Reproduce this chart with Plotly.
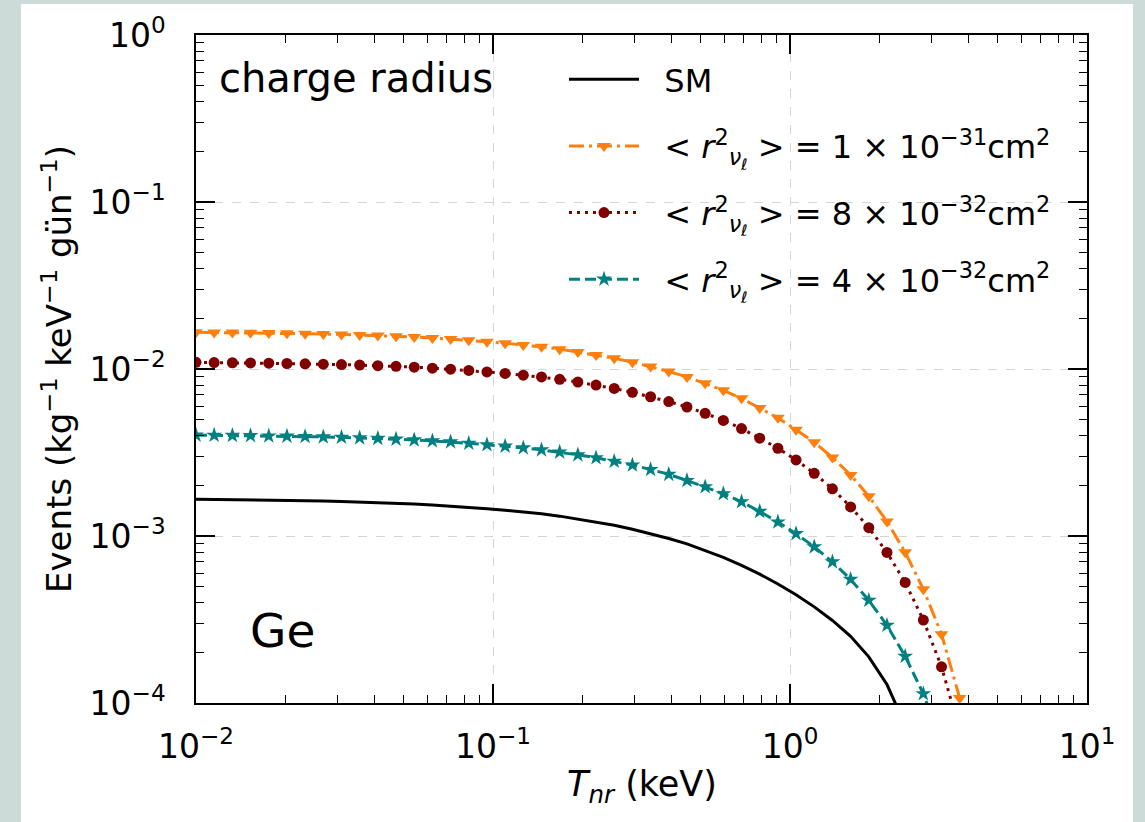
import plotly.graph_objects as go

# Recoil energy T_nr (keV)
T_keV = [0.01, 0.01151, 0.01326, 0.01526, 0.01758, 0.02024, 0.02330, 0.02683, 0.03089, 0.03556,
         0.04095, 0.04715, 0.05429, 0.06251, 0.07197, 0.08287, 0.09541, 0.10985, 0.12649, 0.14563,
         0.16768, 0.19307, 0.22230, 0.25595, 0.29471, 0.33932, 0.39069, 0.44984, 0.51795, 0.59636,
         0.68665, 0.79060, 0.91029, 1.04811, 1.20679, 1.38950, 1.59986, 1.84207, 2.12095, 2.44205,
         2.81177, 3.23746, 3.72759, 4.29193]

# Events (kg^-1 keV^-1 day^-1)
events_sm = [1.660e-3, 1.656e-3, 1.652e-3, 1.647e-3, 1.642e-3, 1.635e-3, 1.628e-3, 1.620e-3, 1.610e-3, 1.599e-3,
             1.586e-3, 1.571e-3, 1.554e-3, 1.534e-3, 1.511e-3, 1.485e-3, 1.455e-3, 1.425e-3, 1.393e-3, 1.357e-3,
             1.315e-3, 1.265e-3, 1.214e-3, 1.159e-3, 1.098e-3, 1.034e-3, 0.966e-3, 0.897e-3, 0.822e-3, 0.745e-3,
             0.667e-3, 0.591e-3, 0.516e-3, 0.445e-3, 0.3765e-3, 0.312e-3, 0.251e-3, 0.189e-3, 0.129e-3, 0.0736e-3]

events_r1e31 = [16.60e-3, 16.56e-3, 16.52e-3, 16.47e-3, 16.42e-3, 16.35e-3, 16.28e-3, 16.20e-3, 16.10e-3, 15.99e-3,
                15.86e-3, 15.71e-3, 15.54e-3, 15.34e-3, 15.11e-3, 14.85e-3, 14.55e-3, 14.25e-3, 13.93e-3, 13.57e-3,
                13.15e-3, 12.65e-3, 12.14e-3, 11.59e-3, 10.98e-3, 10.34e-3, 9.66e-3, 8.97e-3, 8.22e-3, 7.45e-3,
                6.67e-3, 5.85e-3, 5.10e-3, 4.33e-3, 3.64e-3, 2.95e-3, 2.32e-3, 1.73e-3, 1.22e-3, 0.80e-3,
                0.48e-3, 0.258e-3, 0.107e-3, 0.032e-3]

events_r8e32 = [10.96e-3, 10.93e-3, 10.90e-3, 10.87e-3, 10.84e-3, 10.79e-3, 10.74e-3, 10.69e-3, 10.63e-3, 10.55e-3,
                10.47e-3, 10.37e-3, 10.26e-3, 10.12e-3, 9.97e-3, 9.80e-3, 9.60e-3, 9.41e-3, 9.19e-3, 8.96e-3,
                8.68e-3, 8.35e-3, 8.01e-3, 7.65e-3, 7.25e-3, 6.82e-3, 6.38e-3, 5.92e-3, 5.43e-3, 4.92e-3,
                4.40e-3, 3.85e-3, 3.353e-3, 2.853e-3, 2.374e-3, 1.916e-3, 1.494e-3, 1.121e-3, 0.797e-3, 0.527e-3,
                0.3137e-3, 0.1646e-3, 0.0686e-3]

events_r4e32 = [4.02e-3, 4.01e-3, 4.00e-3, 3.99e-3, 3.97e-3, 3.96e-3, 3.94e-3, 3.92e-3, 3.90e-3, 3.87e-3,
                3.84e-3, 3.80e-3, 3.76e-3, 3.71e-3, 3.66e-3, 3.59e-3, 3.52e-3, 3.45e-3, 3.37e-3, 3.28e-3,
                3.18e-3, 3.06e-3, 2.94e-3, 2.80e-3, 2.66e-3, 2.50e-3, 2.34e-3, 2.15e-3, 1.97e-3, 1.79e-3,
                1.603e-3, 1.403e-3, 1.213e-3, 1.033e-3, 0.861e-3, 0.700e-3, 0.550e-3, 0.412e-3, 0.292e-3, 0.1905e-3,
                0.1135e-3, 0.0569e-3]

series_names = [
    "&nbsp;&nbsp;SM",
    "&nbsp;&nbsp;&lt; <i>r</i><sup>2</sup><sub><i>ν</i><sub>ℓ</sub></sub> &gt; = 1 × 10<sup>−31</sup>cm<sup>2</sup>",
    "&nbsp;&nbsp;&lt; <i>r</i><sup>2</sup><sub><i>ν</i><sub>ℓ</sub></sub> &gt; = 8 × 10<sup>−32</sup>cm<sup>2</sup>",
    "&nbsp;&nbsp;&lt; <i>r</i><sup>2</sup><sub><i>ν</i><sub>ℓ</sub></sub> &gt; = 4 × 10<sup>−32</sup>cm<sup>2</sup>",
]

x_tickvals = [0.01, 0.1, 1, 10]
x_ticktext = ["10<sup>−2</sup>", "10<sup>−1</sup>", "10<sup>0</sup>", "10<sup>1</sup>"]
y_tickvals = [1e-4, 1e-3, 1e-2, 1e-1, 1]
y_ticktext = ["10<sup>−4</sup>", "10<sup>−3</sup>", "10<sup>−2</sup>", "10<sup>−1</sup>", "10<sup>0</sup>"]

FONT = "DejaVu Sans"

fig = go.Figure()

fig.add_trace(go.Scatter(
    x=T_keV[:len(events_sm)], y=events_sm, name=series_names[0], mode="lines",
    line=dict(color="black", width=3), legendgroup="a"))
fig.add_trace(go.Scatter(
    x=T_keV[:len(events_r1e31)], y=events_r1e31, name=series_names[1], mode="lines+markers",
    line=dict(color="#ff7f0e", width=3, dash="15px,5px,3px,5px"),
    marker=dict(symbol="triangle-down", size=12, color="#ff7f0e"), legendgroup="b"))
fig.add_trace(go.Scatter(
    x=T_keV[:len(events_r8e32)], y=events_r8e32, name=series_names[2], mode="lines+markers",
    line=dict(color="#800000", width=3, dash="3px,5px"),
    marker=dict(symbol="circle", size=11, color="#800000"), legendgroup="c"))
fig.add_trace(go.Scatter(
    x=T_keV[:len(events_r4e32)], y=events_r4e32, name=series_names[3], mode="lines+markers",
    line=dict(color="#008080", width=3, dash="11px,5px"),
    marker=dict(symbol="star", size=12, color="#008080"), legendgroup="d"))

axis_common = dict(
    type="log", showline=True, linecolor="black", linewidth=1.5, mirror="ticks",
    ticks="inside", ticklen=19, tickwidth=1.5, tickcolor="black",
    showgrid=True, gridcolor="#d5d5d5", griddash="dash", gridwidth=1,
    zeroline=False, tickfont=dict(family=FONT, size=33, color="black"),
    minor=dict(ticks="inside", ticklen=8, tickwidth=1, tickcolor="black", dtick="D1", showgrid=False),
)

fig.update_xaxes(range=[-2, 1], tickvals=x_tickvals, ticktext=x_ticktext, ticklabelstandoff=14, **axis_common)
fig.update_yaxes(range=[-4, 0], tickvals=y_tickvals, ticktext=y_ticktext, ticklabelstandoff=22, **axis_common)

fig.add_shape(type="rect", xref="paper", yref="paper", x0=-0.1964, x1=1.0516, y0=-0.1781, y1=1.0464,
              fillcolor="white", line=dict(width=0), layer="below")

fig.add_annotation(text="charge radius", xref="paper", yref="paper", x=0.024, y=0.936,
                   xanchor="left", yanchor="middle", showarrow=False,
                   font=dict(family=FONT, size=40, color="black"))
fig.add_annotation(text="Ge", xref="paper", yref="paper", x=0.058, y=0.109,
                   xanchor="left", yanchor="middle", showarrow=False,
                   font=dict(family=FONT, size=47, color="black"))
fig.add_annotation(text="<i>T<sub>nr</sub></i> (keV)", xref="paper", yref="paper", x=0.5, y=-0.125,
                   xanchor="center", yanchor="middle", showarrow=False,
                   font=dict(family=FONT, size=35, color="black"))
fig.add_annotation(text="Events (kg<sup>−1</sup> keV<sup>−1</sup> gün<sup>−1</sup>)", xref="paper", yref="paper",
                   x=-0.156, y=0.5, xanchor="center", yanchor="middle", textangle=-90, showarrow=False,
                   font=dict(family=FONT, size=34, color="black"))

fig.update_layout(
    width=1145, height=822,
    margin=dict(l=196, r=58, t=35, b=119),
    paper_bgcolor="#cddbd8", plot_bgcolor="white",
    font=dict(family=FONT, color="black"),
    showlegend=True,
    legend=dict(x=0.413, y=0.9745, xanchor="left", yanchor="top", bgcolor="rgba(0,0,0,0)",
                font=dict(family=FONT, size=32, color="black"), itemwidth=70, tracegroupgap=22,
                traceorder="grouped"),
)

fig.write_html("out.html", config={"displayModeBar": False},
               post_script="document.body.style.margin='0px';")
